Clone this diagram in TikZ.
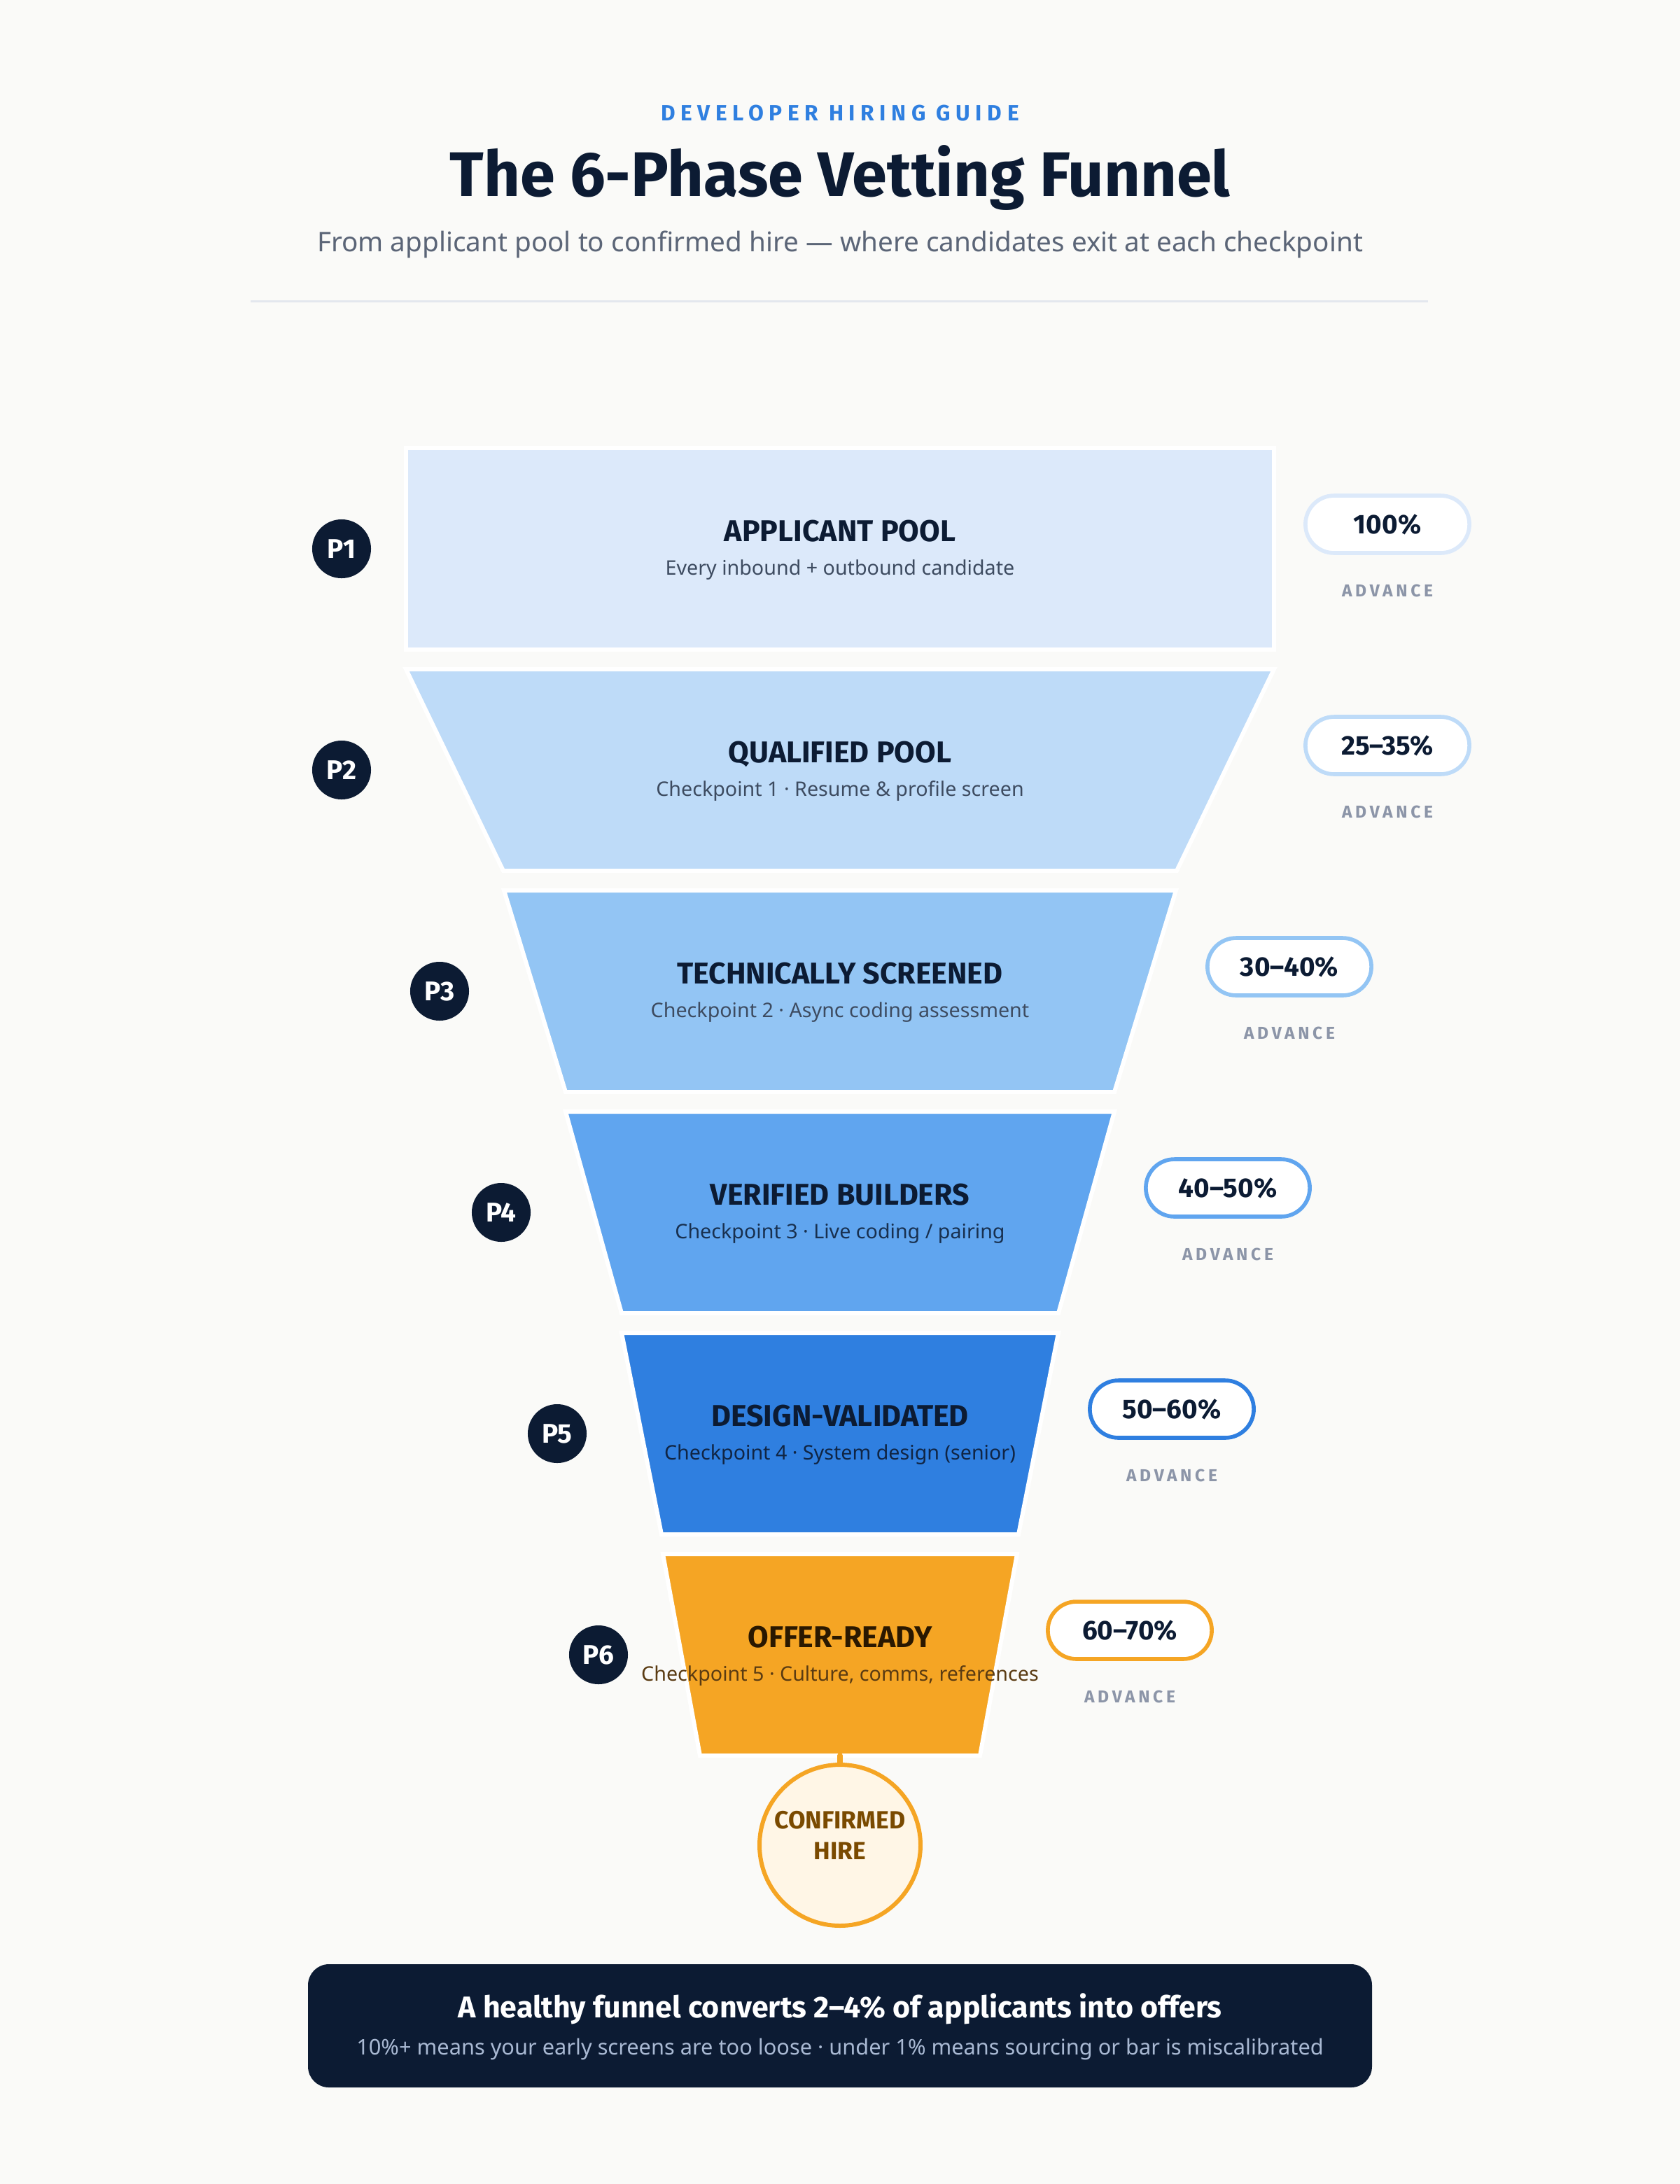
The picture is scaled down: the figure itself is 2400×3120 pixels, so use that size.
\documentclass[tikz,border=0pt]{standalone}
\usepackage{fontspec}
\setmainfont{Noto Sans}
\newfontfamily\headfont{Fira Sans}
\usetikzlibrary{positioning}
\definecolor{pagebg}{HTML}{FAFAF8}
\definecolor{navy}{HTML}{0C1B33}
\definecolor{kickerblue}{HTML}{2F7FE0}
\definecolor{subgrey}{HTML}{5B6577}
\definecolor{slate}{HTML}{3D4B60}
\definecolor{advgrey}{HTML}{8C95A8}
\definecolor{rulegrey}{HTML}{E3E7EE}
\definecolor{stageone}{HTML}{DCE9FA}
\definecolor{stagetwo}{HTML}{BEDBF8}
\definecolor{stagethree}{HTML}{93C5F4}
\definecolor{stagefour}{HTML}{60A5EF}
\definecolor{stagefive}{HTML}{2F7FE0}
\definecolor{stagesix}{HTML}{F5A524}
\definecolor{hirefill}{HTML}{FFF6E6}
\definecolor{hiretext}{HTML}{7A4A00}
\definecolor{offerdark}{HTML}{2A1800}
\definecolor{offersub}{HTML}{5A3B12}
\definecolor{boxsub}{HTML}{A9B9D3}

\tikzset{
  stage/.style={draw=white, line width=1.7pt},
  stagetitle/.style={anchor=base, text=navy, font=\headfont\bfseries\fontsize{12.2}{14}\selectfont},
  stagesub/.style={anchor=base, text=slate, font=\fontsize{8.15}{10}\selectfont},
  phase/.style={circle, fill=navy, text=white, minimum size=23.9pt, inner sep=0pt,
    font=\headfont\bfseries\fontsize{11}{13}\selectfont},
  pill/.style={draw=#1, fill=white, line width=1.6pt, rounded corners=11.6pt,
    minimum width=66.6pt, minimum height=23.3pt, inner sep=0pt, text=navy,
    font=\headfont\bfseries\fontsize{11}{13}\selectfont},
  advance/.style={text=advgrey, font=\headfont\bfseries\addfontfeature{LetterSpace=19}\fontsize{7}{8}\selectfont},
}

\begin{document}
\begin{tikzpicture}[x=0.01cm, y=-0.01cm]
    \useasboundingbox (0,0) rectangle (2400,3120);
    \fill[pagebg] (0,0) rectangle (2400,3120);

    % header
    \node[anchor=base, text=kickerblue, font=\headfont\bfseries\addfontfeature{LetterSpace=24}\fontsize{9}{10}\selectfont] (kicker) at (1200,172) {DEVELOPER HIRING GUIDE};
    \node[anchor=base, text=navy, font=\headfont\bfseries\fontsize{25.6}{30}\selectfont] (title) at (1200,280) {The 6-Phase Vetting Funnel};
    \node[anchor=base, text=subgrey, font=\fontsize{11}{13}\selectfont] (subtitle) at (1200,359) {From applicant pool to confirmed hire --- where candidates exit at each checkpoint};
    \draw[rulegrey, line width=0.85pt] (358,430) -- (2040,430);

    % phase 1
    \draw[stage, fill=stageone] (580,640) rectangle (1820,928);
    \node[stagetitle] (t1) at (1200,773) {APPLICANT POOL};
    \node[stagesub] (s1) at (1200,821) {Every inbound + outbound candidate};
    \node[phase] (p1) at (488,784) {P1};
    \node[pill=stageone] (pill1) at (1982,749) {100\%};
    \node[advance] (a1) at (1982,844) {ADVANCE};

    % phase 2
    \draw[stage, fill=stagetwo] (580,956) -- (1820,956) -- (1681,1244) -- (719,1244) -- cycle;
    \node[stagetitle] (t2) at (1200,1089) {QUALIFIED POOL};
    \node[stagesub] (s2) at (1200,1137) {Checkpoint 1 · Resume \& profile screen};
    \node[phase] (p2) at (488,1100) {P2};
    \node[pill=stagetwo] (pill2) at (1982,1065) {25–35\%};
    \node[advance] (a2) at (1982,1160) {ADVANCE};

    % phase 3
    \draw[stage, fill=stagethree] (720,1272) -- (1680,1272) -- (1592,1560) -- (808,1560) -- cycle;
    \node[stagetitle] (t3) at (1200,1405) {TECHNICALLY SCREENED};
    \node[stagesub] (s3) at (1200,1453) {Checkpoint 2 · Async coding assessment};
    \node[phase] (p3) at (628,1416) {P3};
    \node[pill=stagethree] (pill3) at (1842,1381) {30–40\%};
    \node[advance] (a3) at (1842,1476) {ADVANCE};

    % phase 4
    \draw[stage, fill=stagefour] (808,1588) -- (1592,1588) -- (1512,1876) -- (888,1876) -- cycle;
    \node[stagetitle] (t4) at (1200,1721) {VERIFIED BUILDERS};
    \node[stagesub, text=navy!85!stagefour] (s4) at (1200,1769) {Checkpoint 3 · Live coding / pairing};
    \node[phase] (p4) at (716,1732) {P4};
    \node[pill=stagefour] (pill4) at (1754,1697) {40–50\%};
    \node[advance] (a4) at (1754,1792) {ADVANCE};

    % phase 5
    \draw[stage, fill=stagefive] (888,1904) -- (1512,1904) -- (1455,2192) -- (945,2192) -- cycle;
    \node[stagetitle] (t5) at (1200,2037) {DESIGN-VALIDATED};
    \node[stagesub, text=navy!90!stagefive] (s5) at (1200,2085) {Checkpoint 4 · System design (senior)};
    \node[phase] (p5) at (796,2048) {P5};
    \node[pill=stagefive] (pill5) at (1674,2013) {50–60\%};
    \node[advance] (a5) at (1674,2108) {ADVANCE};

    % phase 6
    \draw[stage, fill=stagesix] (947,2220) -- (1453,2220) -- (1400,2508) -- (1000,2508) -- cycle;
    \coordinate (p6bot) at (1200,2508);
    \node[stagetitle, text=offerdark] (t6) at (1200,2353) {OFFER-READY};
    \node[stagesub, text=offersub] (s6) at (1200,2401) {Checkpoint 5 · Culture, comms, references};
    \node[phase] (p6) at (855,2364) {P6};
    \node[pill=stagesix] (pill6) at (1614,2329) {60–70\%};
    \node[advance] (a6) at (1614,2424) {ADVANCE};

    % confirmed hire
    \node[circle, draw=stagesix, fill=hirefill, line width=1.7pt, minimum size=65.4pt, inner sep=0pt] (hire) at (1200,2636) {};
    \node[align=center, text=hiretext, font=\headfont\bfseries\fontsize{10.1}{12.5}\selectfont] (hirelabel) at (1200,2622) {CONFIRMED\\HIRE};
    \draw[stagesix, line width=2.2pt, line cap=round] (p6bot) -- (hire.north);

    % summary box
    \fill[navy, rounded corners=8.5pt] (440,2806) rectangle (1960,2982);
    \node[anchor=base, text=white, font=\headfont\bfseries\fontsize{12.2}{14}\selectfont] (sum1) at (1200,2882) {A healthy funnel converts 2–4\% of applicants into offers};
    \node[anchor=base, text=boxsub, font=\fontsize{8.75}{10}\selectfont] (sum2) at (1200,2935) {10\%+ means your early screens are too loose · under 1\% means sourcing or bar is miscalibrated};
\end{tikzpicture}
\end{document}
